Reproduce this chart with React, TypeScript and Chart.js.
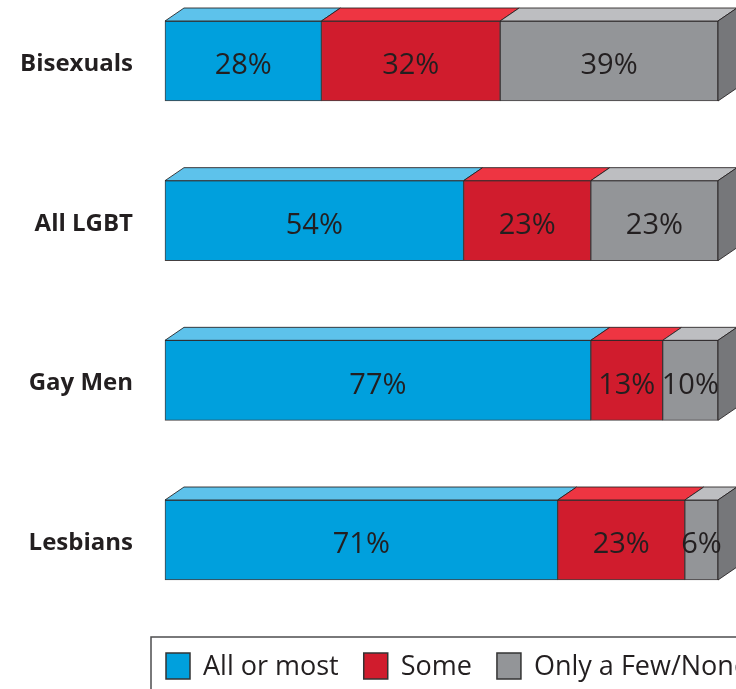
import React, { useEffect, useRef } from 'react';
import { Chart, registerables } from 'chart.js';
Chart.register(...registerables);

const categories = ['Bisexuals', 'All LGBT', 'Gay Men', 'Lesbians'];
const seriesNames = ['All or most', 'Some', 'Only a Few/None'];
const allOrMost = [28, 54, 77, 71];
const some = [32, 23, 13, 23];
const fewNone = [39, 23, 10, 6];

const FRONT = ['#00a0dd', '#d01c2d', '#939598'];
const TOP = ['#5dc2eb', '#ee3542', '#bdbec1'];
const SIDE = '#76777a';
const FONT = '"Open Sans", "DejaVu Sans", sans-serif';
const TEXT = '#231f20';
const DX = 19;
const DY = 13;

const series = [allOrMost, some, fewNone];
const rowSums = categories.map((_, i) => series.reduce((s, a) => s + a[i], 0));

const threeD = {
  id: 'threeD',
  afterDatasetsDraw(chart: any) {
    const ctx = chart.ctx;
    ctx.save();
    const nSets = chart.data.datasets.length;
    for (let d = 0; d < nSets; d++) {
      const meta = chart.getDatasetMeta(d);
      meta.data.forEach((el: any, i: number) => {
        const p = el.getProps(['x', 'y', 'base', 'height'], true);
        const left = Math.min(p.base, p.x);
        const right = Math.max(p.base, p.x);
        const top = p.y - p.height / 2;
        const bottom = p.y + p.height / 2;
        ctx.lineWidth = 1;
        ctx.strokeStyle = 'rgba(35,31,32,0.85)';
        ctx.beginPath();
        ctx.moveTo(left, top);
        ctx.lineTo(left + DX, top - DY);
        ctx.lineTo(right + DX, top - DY);
        ctx.lineTo(right, top);
        ctx.closePath();
        ctx.fillStyle = TOP[d];
        ctx.fill();
        ctx.stroke();
        if (d === nSets - 1) {
          ctx.beginPath();
          ctx.moveTo(right, top);
          ctx.lineTo(right + DX, top - DY);
          ctx.lineTo(right + DX, bottom - DY);
          ctx.lineTo(right, bottom);
          ctx.closePath();
          ctx.fillStyle = SIDE;
          ctx.fill();
          ctx.stroke();
        }
        const v = series[d][i];
        ctx.fillStyle = TEXT;
        ctx.font = `29px ${FONT}`;
        ctx.textAlign = 'center';
        ctx.textBaseline = 'middle';
        ctx.fillText(`${v}%`, (left + right) / 2, p.y + 5);
      });
    }
    const yScale = chart.scales.y;
    ctx.font = `bold 24px ${FONT}`;
    ctx.fillStyle = TEXT;
    ctx.textAlign = 'right';
    ctx.textBaseline = 'middle';
    categories.forEach((c, i) => {
      ctx.fillText(c, 133, yScale.getPixelForValue(i) + 3);
    });
    // legend
    ctx.lineWidth = 1.5;
    ctx.strokeStyle = '#4d4d4f';
    ctx.strokeRect(151, 637, 620, 80);
    let x = 166;
    ctx.font = `27px ${FONT}`;
    ctx.textAlign = 'left';
    seriesNames.forEach((name, k) => {
      ctx.fillStyle = FRONT[k];
      ctx.fillRect(x, 653, 24, 26);
      ctx.lineWidth = 1.5;
      ctx.strokeStyle = '#333';
      ctx.strokeRect(x, 653, 24, 26);
      ctx.fillStyle = TEXT;
      ctx.fillText(name, x + 37, 667);
      x += 37 + ctx.measureText(name).width + 25;
    });
    ctx.restore();
  },
};

export default function App() {
  const ref = useRef<HTMLCanvasElement>(null);
  useEffect(() => {
    if (!ref.current) return;
    const chart = new Chart(ref.current, {
      type: 'bar',
      data: {
        labels: categories,
        datasets: series.map((vals, k) => ({
          label: seriesNames[k],
          data: vals.map((v, i) => (v / rowSums[i]) * 100),
          backgroundColor: FRONT[k],
          borderColor: 'rgba(35,31,32,0.85)',
          borderWidth: 1,
          borderSkipped: false,
          barThickness: 80,
          clip: false as any,
        })),
      },
      options: {
        indexAxis: 'y',
        animation: false,
        responsive: false,
        layout: { padding: { left: 165, right: 18, top: 61, bottom: 149 } },
        scales: {
          x: { stacked: true, display: false, min: 0, max: 100 },
          y: { stacked: true, display: false, offset: false },
        },
        plugins: { legend: { display: false }, tooltip: { enabled: false } },
      },
      plugins: [threeD],
    });
    return () => chart.destroy();
  }, []);
  return (
    <div style={{ position: 'absolute', left: 0, top: 0, width: 736, height: 689, background: '#fff' }}>
      <canvas ref={ref} width={736} height={689} style={{ display: 'block' }} />
    </div>
  );
}
